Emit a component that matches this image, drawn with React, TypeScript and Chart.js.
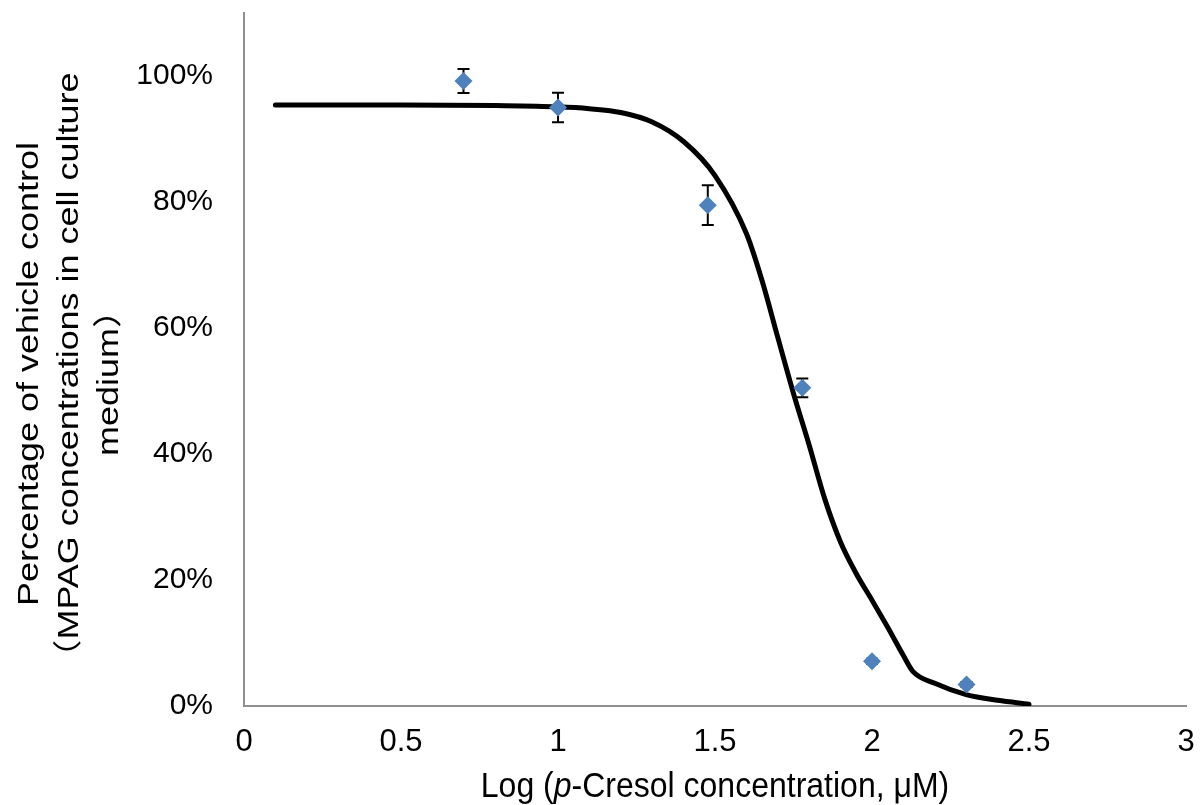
import React, { useEffect, useRef } from 'react';
import { Chart, registerables } from 'chart.js';

Chart.register(...registerables);

// ---- data ----
const pointX = [0.699, 1.0, 1.477, 1.778, 2.0, 2.301];
const pointY = [99.2, 95.0, 79.5, 50.5, 7.1, 3.4];
const pointErr = [1.9, 2.35, 3.15, 1.5, 0.4, 0.4];

const curveX = [0.1, 0.5, 0.8, 1.0, 1.1, 1.2, 1.3, 1.4, 1.5, 1.6, 1.65, 1.7, 1.75, 1.8, 1.85, 1.9, 1.95, 2.0, 2.05, 2.1, 2.13, 2.2, 2.3, 2.4, 2.5];
const curveY = [95.4, 95.4, 95.3, 95.1, 94.8, 94.2, 92.7, 89.6, 84.2, 75.0, 67.5, 58.5, 49.6, 41.4, 32.8, 26.0, 21.0, 16.8, 12.5, 8.0, 5.5, 3.6, 1.8, 0.9, 0.3];

const xTickValues = [0, 0.5, 1, 1.5, 2, 2.5, 3];
const xTickLabels = ['0', '0.5', '1', '1.5', '2', '2.5', '3'];
const yTickValues = [0, 20, 40, 60, 80, 100];
const yTickLabels = ['0%', '20%', '40%', '60%', '80%', '100%'];

const xTitleParts = [
  { text: 'Log (', italic: false },
  { text: 'p', italic: true },
  { text: '-Cresol concentration, μM)', italic: false },
];
const yTitleLines = [
  'Percentage of vehicle control',
  '（MPAG concentrations in cell culture',
  'medium）',
];

const FONT = "'Liberation Sans', Arial, 'Noto Sans CJK SC', sans-serif";

const errorBarPlugin = {
  id: 'errorBars',
  beforeDatasetDraw(chart: any, args: any) {
    if (args.index !== 0) return;
    const { ctx } = chart;
    const xs = chart.scales.x;
    const ys = chart.scales.y;
    ctx.save();
    ctx.strokeStyle = '#000';
    ctx.lineWidth = 2;
    pointX.forEach((xv, i) => {
      const px = xs.getPixelForValue(xv);
      const top = ys.getPixelForValue(pointY[i] + pointErr[i]);
      const bot = ys.getPixelForValue(pointY[i] - pointErr[i]);
      ctx.beginPath();
      ctx.moveTo(px, top);
      ctx.lineTo(px, bot);
      ctx.moveTo(px - 6, top);
      ctx.lineTo(px + 6, top);
      ctx.moveTo(px - 6, bot);
      ctx.lineTo(px + 6, bot);
      ctx.stroke();
    });
    ctx.restore();
  },
};

const titlesPlugin = {
  id: 'axisTitles',
  afterDraw(chart: any) {
    const { ctx, chartArea } = chart;
    ctx.save();
    ctx.fillStyle = '#000';
    // x title
    const size = 32;
    const fontFor = (it: boolean) => `${it ? 'italic ' : ''}${size}px ${FONT}`;
    let total = 0;
    const widths = xTitleParts.map((p) => {
      ctx.font = fontFor(p.italic);
      const w = ctx.measureText(p.text).width;
      total += w;
      return w;
    });
    const cx = (chartArea.left + chartArea.right) / 2;
    ctx.save();
    ctx.translate(0, 797);
    ctx.scale(1, 1.1);
    ctx.textBaseline = 'alphabetic';
    ctx.textAlign = 'left';
    let x = cx - total / 2;
    xTitleParts.forEach((p, i) => {
      ctx.font = fontFor(p.italic);
      ctx.fillText(p.text, x, 0);
      x += widths[i];
    });
    ctx.restore();

    // y title
    const baselines = [38, 78, 118];
    const cy = 374;
    ctx.font = `29px ${FONT}`;
    ctx.textAlign = 'center';
    ctx.textBaseline = 'alphabetic';
    yTitleLines.forEach((line, i) => {
      ctx.save();
      ctx.translate(baselines[i], cy);
      ctx.rotate(-Math.PI / 2);
      ctx.scale(1.24, 1);
      ctx.fillText(line, 0, 0);
      ctx.restore();
    });
    ctx.restore();
  },
};

export default function App() {
  const ref = useRef<HTMLCanvasElement | null>(null);

  useEffect(() => {
    if (!ref.current) return;
    const chart = new Chart(ref.current, {
      type: 'scatter',
      data: {
        datasets: [
          {
            label: 'Measured',
            data: pointX.map((x, i) => ({ x, y: pointY[i] })),
            backgroundColor: '#4F81BD',
            borderColor: '#4F81BD',
            borderWidth: 0,
            pointStyle: 'rectRot',
            pointRadius: 9,
            pointHoverRadius: 9,
            showLine: false,
          },
          {
            label: 'Fit',
            data: curveX.map((x, i) => ({ x, y: curveY[i] })),
            showLine: true,
            borderColor: '#000',
            borderWidth: 5,
            pointRadius: 0,
            pointHoverRadius: 0,
            cubicInterpolationMode: 'monotone',
            borderCapStyle: 'round',
            borderJoinStyle: 'round',
            fill: false,
          },
        ],
      },
      options: {
        animation: false,
        responsive: true,
        maintainAspectRatio: false,
        layout: { padding: { top: 13, right: 16, left: 0, bottom: 0 } },
        plugins: {
          legend: { display: false },
          tooltip: { enabled: false },
          title: { display: false },
        },
        scales: {
          x: {
            type: 'linear',
            min: 0,
            max: 3,
            afterBuildTicks: (scale: any) => {
              scale.ticks = xTickValues.map((v) => ({ value: v }));
            },
            afterFit: (scale: any) => {
              scale.height = 99;
              scale.paddingLeft = 0;
              scale.paddingRight = 0;
              scale.paddingTop = 0;
              scale.paddingBottom = 0;
            },
            ticks: {
              padding: 18,
              color: '#000',
              font: { size: 31, family: FONT },
              maxRotation: 0,
              autoSkip: false,
              callback: (v: any) => {
                const i = xTickValues.indexOf(Number(v));
                return i >= 0 ? xTickLabels[i] : '';
              },
            },
            grid: { drawOnChartArea: false, drawTicks: false, color: '#8f8f8f' },
            border: { display: true, color: '#8f8f8f', width: 2 },
          },
          y: {
            type: 'linear',
            min: 0,
            max: 110,
            afterBuildTicks: (scale: any) => {
              scale.ticks = yTickValues.map((v) => ({ value: v }));
            },
            afterFit: (scale: any) => {
              scale.width = 244;
              scale.paddingLeft = 0;
              scale.paddingRight = 0;
              scale.paddingTop = 0;
              scale.paddingBottom = 0;
            },
            ticks: {
              padding: 31,
              color: '#000',
              font: { size: 30, family: FONT },
              autoSkip: false,
              callback: (v: any) => {
                const i = yTickValues.indexOf(Number(v));
                return i >= 0 ? yTickLabels[i] : '';
              },
            },
            grid: { drawOnChartArea: false, drawTicks: false, color: '#8f8f8f' },
            border: { display: true, color: '#8f8f8f', width: 2 },
          },
        },
      },
      plugins: [errorBarPlugin, titlesPlugin],
    } as any);
    return () => chart.destroy();
  }, []);

  return (
    <div style={{ position: 'fixed', left: 0, top: 0, width: 1202, height: 805, background: '#fff' }}>
      <canvas ref={ref} />
    </div>
  );
}
